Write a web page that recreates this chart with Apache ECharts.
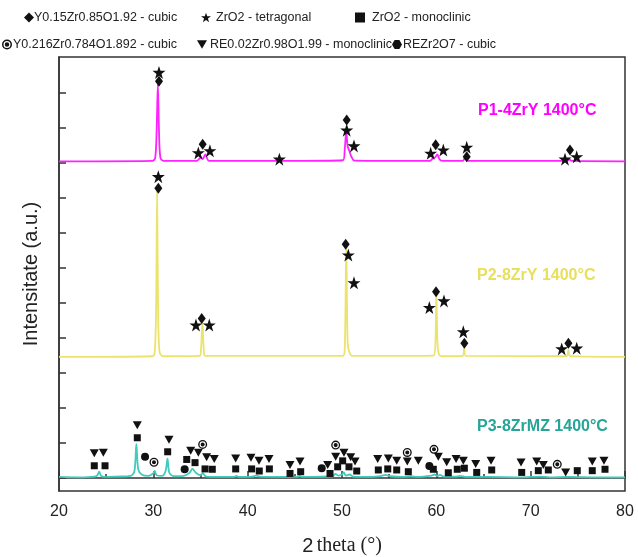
<!DOCTYPE html>
<html>
<head>
<meta charset="utf-8">
<script src="https://cdn.jsdelivr.net/npm/echarts@6/dist/echarts.min.js"></script>
<style>
  html, body { margin: 0; padding: 0; background: #fff; }
  #main { width: 638px; height: 557px; }
</style>
</head>
<body>
<div id="main"></div>
<script>
// stacked XRD patterns, intensity relative to each baseline (1 unit = one y tick)
const p1Offset = 9.03;
const p2Offset = 3.46;
const p3Offset = 0;

const p1Pattern = [[20,0.02],[24,0.02],[29.9,0.03],[30.2,0.12],[30.35,0.9],[30.48,2.22],[30.6,0.9],[30.75,0.12],[31.1,0.03],
  [34.6,0.03],[34.9,0.1],[35.05,0.13],[35.25,0.08],[35.5,0.22],[35.65,0.14],[35.9,0.03],[43.3,0.03],
  [50.1,0.05],[50.3,0.4],[50.45,0.86],[50.6,0.45],[50.8,0.3],[51.0,0.15],[51.3,0.04],
  [59.3,0.03],[59.6,0.09],[59.9,0.14],[60.1,0.22],[60.3,0.1],[60.5,0.04],
  [62.8,0.03],[63.05,0.13],[63.3,0.03],[73.8,0.03],[74.1,0.07],[74.4,0.03],[80,0.02]];

const p2Pattern = [[20,0],[29.9,0.02],[30.15,0.15],[30.3,1.5],[30.4,4.73],[30.5,1.5],[30.65,0.15],[31,0.02],
  [34.9,0.03],[35.05,0.2],[35.2,0.97],[35.35,0.2],[35.5,0.03],
  [50.1,0.03],[50.3,0.3],[50.45,3.1],[50.6,0.4],[50.8,0.12],[51.1,0.03],
  [59.7,0.04],[59.9,0.4],[60.0,1.83],[60.12,0.4],[60.3,0.06],[60.6,0.02],
  [62.8,0.03],[62.95,0.3],[63.1,0.03],[73.8,0.02],[74.0,0.2],[74.2,0.02],[80,0]];

const p3Pattern = [[20,0.03],[22,0.02],[23.8,0.04],[24.1,0.09],[24.25,0.18],[24.45,0.07],[24.8,0.03],[26,0.04],
  [27.6,0.06],[28.0,0.2],[28.2,0.97],[28.4,0.25],[28.8,0.09],[29.5,0.06],[30.0,0.14],[30.15,0.2],[30.35,0.08],
  [30.9,0.06],[31.3,0.2],[31.5,0.55],[31.7,0.15],[32.2,0.05],[33.2,0.06],[33.8,0.14],[34.15,0.26],[34.5,0.15],
  [35.0,0.08],[35.25,0.14],[35.5,0.06],[36.0,0.03],[38.5,0.03],[38.8,0.06],[39.1,0.03],[40.5,0.04],[40.9,0.07],
  [41.3,0.04],[44,0.03],[45.2,0.03],[45.5,0.06],[45.8,0.03],[49.0,0.05],[49.3,0.12],[49.6,0.07],[50.0,0.1],
  [50.2,0.16],[50.4,0.07],[50.8,0.1],[51.2,0.04],[53,0.03],[54.2,0.06],[54.6,0.09],[55.2,0.05],[56.5,0.03],
  [57.3,0.05],[58,0.03],[59.5,0.07],[59.8,0.1],[60.1,0.06],[60.4,0.09],[60.8,0.04],[62,0.04],[62.5,0.06],
  [63.2,0.03],[65.5,0.03],[69,0.02],[71,0.04],[72,0.02],[74,0.03],[77,0.02],[80,0.02]];

// phase markers [2theta, y]
const cubicY15 = [[30.6,11.34],[35.23,9.54],[50.5,10.23],[59.93,9.52],[63.22,9.18],[74.17,9.37],
  [30.53,8.28],[35.13,4.56],[50.39,6.68],[59.97,5.32],[62.97,3.85],[74.0,3.85]];
const tetragonal = [[30.6,11.59],[34.77,9.29],[36.0,9.35],[43.36,9.11],[50.5,9.94],[51.27,9.49],[59.4,9.28],
  [60.74,9.37],[63.22,9.45],[73.64,9.11],[74.88,9.18],
  [30.53,8.61],[34.52,4.37],[35.93,4.37],[50.67,6.37],[51.27,5.58],[59.26,4.87],[60.81,5.06],[62.86,4.18],
  [73.29,3.69],[74.88,3.71]];
const monoclinic = [[23.74,0.35],[24.88,0.35],[28.3,1.15],[31.52,0.75],[33.54,0.53],[34.42,0.44],[35.48,0.26],
  [36.25,0.25],[38.73,0.26],[40.42,0.26],[41.23,0.2],[42.3,0.26],[44.49,0.13],[45.62,0.18],[48.73,0.13],
  [49.54,0.32],[50.07,0.49],[50.74,0.32],[51.56,0.2],[53.85,0.23],[54.85,0.26],[55.8,0.23],[57.03,0.18],
  [59.68,0.25],[61.27,0.15],[62.22,0.25],[62.97,0.28],[64.28,0.16],[65.87,0.23],[69.05,0.16],[70.81,0.21],
  [71.87,0.23],[74.94,0.21],[76.53,0.21],[77.88,0.25]];
const reMonoclinic = [[23.74,0.71],[24.7,0.72],[28.3,1.51],[31.66,1.09],[33.96,0.78],[34.77,0.72],[35.65,0.59],
  [36.46,0.54],[38.73,0.56],[40.35,0.58],[41.2,0.49],[42.26,0.54],[44.49,0.37],[45.55,0.47],[48.48,0.37],
  [49.33,0.61],[50.21,0.72],[50.92,0.59],[51.38,0.47],[53.78,0.54],[54.91,0.56],[55.8,0.49],[56.92,0.47],
  [58.09,0.49],[60.21,0.61],[61.1,0.45],[62.09,0.54],[62.86,0.49],[64.17,0.4],[65.8,0.49],[68.98,0.44],
  [70.64,0.47],[71.34,0.37],[73.71,0.16],[76.53,0.47],[77.77,0.49]];
const cubicY216 = [[30.07,0.45],[35.23,0.96],[49.33,0.94],[56.92,0.73],[59.75,0.82],[72.82,0.39]];
const pyrochlore = [[29.12,0.61],[33.32,0.25],[47.85,0.28],[59.26,0.34]];

const yTicks = [0,1,2,3,4,5,6,7,8,9,10,11];

const STAR = 'path://M12,0 L14.9,8.6 L24,8.6 L16.6,14 L19.4,22.8 L12,17.4 L4.6,22.8 L7.4,14 L0,8.6 L9.1,8.6 Z';
const DOWN = 'path://M0,0 L10,0 L5,8.5 Z';
const RING = 'path://M0,10 A10,10 0 1,1 20,10 A10,10 0 1,1 0,10 Z M3,10 A7,7 0 1,0 17,10 A7,7 0 1,0 3,10 Z M5.5,10 A4.5,4.5 0 1,1 14.5,10 A4.5,4.5 0 1,1 5.5,10 Z';
const HEX = 'path://M5,0 L14,0 L19,8.5 L14,17 L5,17 L0,8.5 Z';

function shift(pattern, off) {
  return pattern.map(p => [p[0], p[1] + off]);
}

const names = ['Y0.15Zr0.85O1.92 - cubic', 'ZrO2 - tetragonal', 'ZrO2 - monoclinic',
  'Y0.216Zr0.784O1.892 - cubic', 'RE0.02Zr0.98O1.99 - monoclinic', 'REZr2O7 - cubic'];

const legendText = { fontFamily: 'Arial, "Liberation Sans"', fontSize: 12.5, color: '#222' };
function oneLegend(name, icon, left, top, gap) {
  return { data: [{ name: name, icon: icon }], left: left, top: top, padding: 0,
    itemWidth: 10, itemHeight: 10, itemGap: 4, selectedMode: false,
    textStyle: Object.assign({ padding: [0, 0, 0, gap || 0] }, legendText) };
}

function markers(name, data, symbol, size) {
  return { name: name, type: 'scatter', data: data, symbol: symbol, symbolSize: size,
    itemStyle: { color: '#111', opacity: 1 }, z: 5, silent: true };
}

const myChart = echarts.init(document.getElementById('main'));
myChart.setOption({
  animation: false,
  backgroundColor: '#fff',
  grid: { left: 59, right: 13, top: 57, bottom: 66, show: true, borderColor: '#333', borderWidth: 1.5,
    outerBoundsMode: 'none', containLabel: false },
  legend: [
    oneLegend(names[0], 'diamond', 24, 11, -5),
    oneLegend(names[1], STAR, 201, 11, 0),
    oneLegend(names[2], 'rect', 355, 11, 2),
    oneLegend(names[3], RING, 2, 38, -4),
    oneLegend(names[4], DOWN, 197, 38, -2),
    oneLegend(names[5], HEX, 392, 38, -4)
  ],
  xAxis: {
    type: 'value', min: 20, max: 80, interval: 10,
    axisLine: { lineStyle: { color: '#333', width: 1.5 } },
    axisTick: { inside: true, length: 7, lineStyle: { color: '#333', width: 1.5 } },
    minorTick: { show: true, splitNumber: 2, length: 4, lineStyle: { color: '#333', width: 1.5 } },
    splitLine: { show: false },
    axisLabel: { fontFamily: 'Arial, "Liberation Sans"', fontSize: 16, color: '#222', margin: 13 },
    name: '{a|2} {b|theta (°)}', nameLocation: 'middle', nameGap: 45,
    nameTextStyle: { rich: {
      a: { fontFamily: 'Arial, "Liberation Sans"', fontSize: 20, color: '#222' },
      b: { fontFamily: '"Liberation Serif", "Times New Roman", serif', fontSize: 20, color: '#222' }
    } }
  },
  yAxis: {
    type: 'value', min: -0.371, max: 12.03,
    axisLine: { lineStyle: { color: '#333', width: 1.5 } },
    axisTick: { inside: true, length: 7, customValues: yTicks, lineStyle: { color: '#333', width: 1.5 } },
    axisLabel: { show: false },
    splitLine: { show: false },
    name: 'Intensitate (a.u.)', nameLocation: 'middle', nameGap: 18,
    nameTextStyle: { fontFamily: 'Arial, "Liberation Sans"', fontSize: 20, color: '#222' }
  },
  graphic: [
    { type: 'text', left: 478, top: 103, style: { text: 'P1-4ZrY 1400°C', fill: '#ff00ff',
      font: 'bold 16px Arial, "Liberation Sans"' } },
    { type: 'text', left: 477, top: 268, style: { text: 'P2-8ZrY 1400°C', fill: '#e8df5c',
      font: 'bold 16px Arial, "Liberation Sans"' } },
    { type: 'text', left: 477, top: 419, style: { text: 'P3-8ZrMZ 1400°C', fill: '#26a598',
      font: 'bold 16px Arial, "Liberation Sans"' } }
  ],
  series: [
    { name: 'P1-4ZrY', type: 'line', data: shift(p1Pattern, p1Offset), showSymbol: false, smooth: 0.3,
      lineStyle: { color: '#ff22ff', width: 1.8 }, z: 2 },
    { name: 'P2-8ZrY', type: 'line', data: shift(p2Pattern, p2Offset), showSymbol: false, smooth: 0.3,
      lineStyle: { color: '#ece36c', width: 1.8 }, z: 2 },
    { name: 'P3-8ZrMZ', type: 'line', data: shift(p3Pattern, p3Offset), showSymbol: false, smooth: 0.3,
      lineStyle: { color: '#3fcbbd', width: 1.8 }, z: 2 },
    markers(names[0], cubicY15, 'diamond', [8, 11]),
    markers(names[1], tetragonal, STAR, 13),
    markers(names[2], monoclinic, 'rect', 7),
    markers(names[3], cubicY216, RING, 9),
    markers(names[4], reMonoclinic, DOWN, [9, 8]),
    markers(names[5], pyrochlore, 'circle', 8)
  ]
});
</script>
</body>
</html>
